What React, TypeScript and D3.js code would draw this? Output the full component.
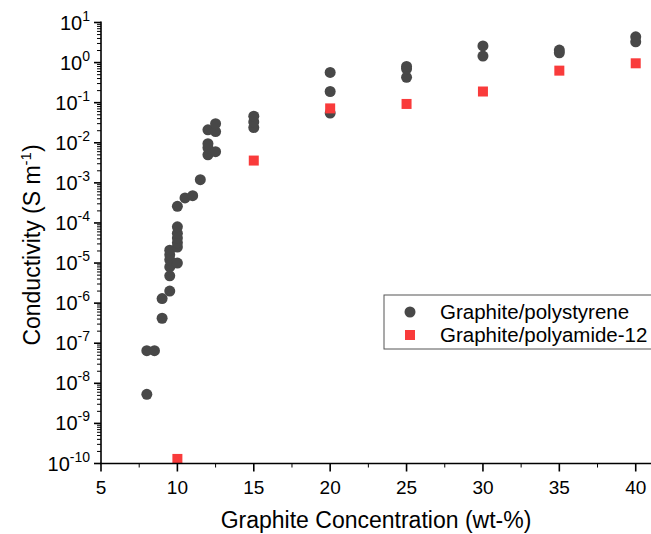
import React from 'react';
import * as d3 from 'd3';

// Graphite/polystyrene, one entry per measured sample
const psConc = [
  8, 8, 8.5, 9, 9,
  9.5, 9.5, 9.5, 9.5, 9.5, 9.5,
  10, 10, 10, 10, 10, 10, 10,
  10.5, 11, 11.5,
  12, 12, 12, 12, 12.5, 12.5, 12.5,
  15, 15, 15, 20, 20, 20, 25, 25, 25, 30, 30, 35, 35, 40, 40,
];
const psCond = [
  5.3e-9, 6.5e-8, 6.5e-8, 4.2e-7, 1.3e-6,
  2.0e-6, 4.8e-6, 8e-6, 1.2e-5, 1.6e-5, 2.1e-5,
  1.0e-5, 2.5e-5, 3.2e-5, 4.2e-5, 5.5e-5, 8e-5, 2.6e-4,
  4.2e-4, 4.8e-4, 1.2e-3,
  5e-3, 7.5e-3, 9.5e-3, 2.1e-2, 6e-3, 1.9e-2, 3e-2,
  2.4e-2, 3.3e-2, 4.6e-2, 5.5e-2, 0.19, 0.57, 0.43, 0.7, 0.8, 1.45, 2.6, 1.75, 2.05, 3.3, 4.4,
];

// Graphite/polyamide-12
const paConc = [10, 15, 20, 25, 30, 35, 40];
const paCond = [1.3e-10, 3.6e-3, 7.2e-2, 9.3e-2, 0.19, 0.63, 0.96];

const xTicks = [5, 10, 15, 20, 25, 30, 35, 40];
const yExponents = [1, 0, -1, -2, -3, -4, -5, -6, -7, -8, -9, -10];

const W = 651;
const H = 534;
const left = 101;
const right = 651;
const top = 22.5;
const bottom = 463.5;

const App = () => {
  const x = d3.scaleLinear().domain([5, 41]).range([left, right]);
  const y = d3.scaleLog().domain([1e-10, 10]).range([bottom, top]);

  const xMinor = d3.range(7.5, 41, 5);
  const yMinor: number[] = [];
  for (let e = -10; e < 1; e++) {
    for (let m = 2; m <= 9; m++) yMinor.push(m * Math.pow(10, e));
  }

  const dark = '#484848';
  const red = '#f93b3b';
  const font = 'Liberation Sans, Arial, sans-serif';

  return (
    <svg width={W} height={H} style={{ position: 'absolute', left: 0, top: 0, background: '#fff' }} fontFamily={font}>
      {/* points */}
      {psConc.map((c, i) => (
        <circle key={'ps' + i} cx={x(c)} cy={y(psCond[i])} r={5.5} fill={dark} />
      ))}
      {paConc.map((c, i) => (
        <rect key={'pa' + i} x={x(c) - 5} y={y(paCond[i]) - 5} width={10} height={10} fill={red} />
      ))}

      {/* y axis */}
      <line x1={left} x2={left} y1={top - 1} y2={bottom} stroke="#000" strokeWidth={1.6} />
      {yMinor.map((v, i) => (
        <line key={'ym' + i} x1={left - 4} x2={left} y1={y(v)} y2={y(v)} stroke="#000" strokeWidth={1} />
      ))}
      {yExponents.map(e => (
        <g key={'yt' + e} transform={`translate(0,${y(Math.pow(10, e))})`}>
          <line x1={left - 7} x2={left} stroke="#000" strokeWidth={1.6} />
          <text x={left - 11} y={7} textAnchor="end" fontSize={20}>
            <tspan>10</tspan>
            <tspan dy={-9} fontSize={14}>{e < 0 ? '-' + Math.abs(e) : e}</tspan>
          </text>
        </g>
      ))}

      {/* x axis */}
      <line x1={left - 1} x2={right} y1={bottom} y2={bottom} stroke="#000" strokeWidth={1.6} />
      {xMinor.map(v => (
        <line key={'xm' + v} x1={x(v)} x2={x(v)} y1={bottom} y2={bottom + 4} stroke="#000" strokeWidth={1} />
      ))}
      {xTicks.map(v => (
        <g key={'xt' + v} transform={`translate(${x(v)},0)`}>
          <line y1={bottom} y2={bottom + 8} stroke="#000" strokeWidth={1.6} />
          <text y={bottom + 30} textAnchor="middle" fontSize={19}>{v}</text>
        </g>
      ))}

      {/* axis titles */}
      <text x={376} y={528} textAnchor="middle" fontSize={23}>
        Graphite Concentration (wt-%)
      </text>
      <text transform={`translate(40,${(top + bottom) / 2 + 2}) rotate(-90)`} textAnchor="middle" fontSize={23}>
        Conductivity (S m<tspan dy={-9} fontSize={15}>-1</tspan><tspan dy={9}>)</tspan>
      </text>

      {/* legend */}
      <rect x={384} y={295} width={280} height={54} fill="#fff" stroke="#555" strokeWidth={1} />
      <circle cx={410} cy={312} r={5.5} fill={dark} />
      <text x={440} y={319} fontSize={20.5}>Graphite/polystyrene</text>
      <rect x={405} y={330} width={10} height={10} fill={red} />
      <text x={440} y={342} fontSize={20.5}>Graphite/polyamide-12</text>
    </svg>
  );
};

export default App;
